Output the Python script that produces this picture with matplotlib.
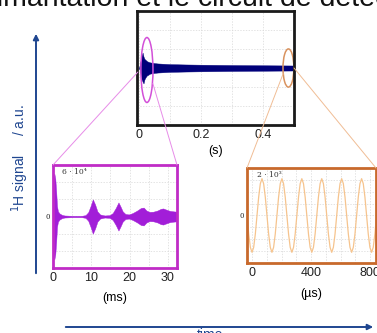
import numpy as np
import matplotlib
matplotlib.use('Agg')
import matplotlib.pyplot as plt
from matplotlib.patches import Ellipse, ConnectionPatch

plt.rcParams['font.family'] = ['Liberation Sans', 'DejaVu Sans']

# main FID envelope (s, a.u. scaled to +-1)
main_t = [0.0, 0.003, 0.006, 0.009, 0.012, 0.015, 0.018, 0.022, 0.026, 0.030,
          0.035, 0.045, 0.06, 0.1, 0.15, 0.2, 0.3, 0.4, 0.5]
main_up = [0.0, 0.05, 0.14, 0.22, 0.27, 0.20, 0.16, 0.14, 0.12, 0.11,
           0.10, 0.09, 0.08, 0.068, 0.062, 0.058, 0.052, 0.048, 0.044]
main_lo = [0.0, -0.04, -0.12, -0.20, -0.24, -0.27, -0.20, -0.16, -0.13, -0.12,
           -0.10, -0.09, -0.08, -0.068, -0.062, -0.058, -0.052, -0.048, -0.044]
main_xticks = [0, 0.1, 0.2, 0.3, 0.4, 0.5]
main_xlabels = ['0', '', '0.2', '', '0.4', '']

# zoom on first 32 ms : echo train envelope (ms, units of 6e4 / 3)
left_t = [0.0, 0.15, 0.35, 0.6, 0.85, 1.05, 1.3, 1.7, 2.3, 3.0, 5.0, 7.5, 8.5,
          9.2, 9.8, 10.4, 11.0, 11.6, 12.3, 13.5, 14.8, 15.6, 16.4, 17.1, 17.6,
          18.2, 18.9, 19.8, 20.8, 22.0, 23.0, 23.7, 24.4, 25.2, 26.2, 27.3, 28.2,
          28.8, 29.6, 30.5, 31.5, 32.4]
left_amp = [0.0, 2.3, 2.5, 2.2, 1.4, 0.6, 0.3, 0.18, 0.1, 0.06, 0.04, 0.04, 0.08,
            0.25, 0.6, 1.0, 0.7, 0.3, 0.12, 0.06, 0.08, 0.2, 0.5, 0.82, 0.6,
            0.3, 0.15, 0.12, 0.2, 0.35, 0.5, 0.52, 0.35, 0.27, 0.28, 0.35, 0.45,
            0.47, 0.4, 0.33, 0.3, 0.28]
left_xticks = [0, 10, 20, 30]

# zoom at the end of the FID (us) : samples read every 11.25 us
one_cycle = [0, -1.55, -2.68, -3.1, -2.68, -1.55, 0, 1.55, 2.68, 3.1, 2.68, 1.55]
right_val = one_cycle * 6 + [0, -1.55, -2.68, -3.1, -2.68, -1.55, 0]
right_t = np.linspace(-33.75, 843.75, len(right_val))
right_xticks = [0, 400, 800]

W, H = 377, 333
BLUE = '#1f4690'
MAGENTA = '#c02cc6'
VIOLET = '#a21ed8'
ORANGE = '#c8692c'


def px_box(l, t, r, b):
    return [l / W, 1 - b / H, (r - l) / W, (b - t) / H]


def style_axes(ax, color, lw):
    for s in ax.spines.values():
        s.set_color(color)
        s.set_linewidth(lw)
    ax.tick_params(length=0, labelsize=9, colors='#222222', pad=3)
    ax.grid(True, color='#d8d8d8', linestyle=(0, (2, 2)), linewidth=0.5)
    ax.set_axisbelow(True)


fig = plt.figure(figsize=(W / 100, H / 100), dpi=100)

# overlay for arrows and captions, in pixel coordinates
bg = fig.add_axes([0, 0, 1, 1])
bg.set_xlim(0, W)
bg.set_ylim(H, 0)
bg.axis('off')
bg.annotate('', xy=(36, 31), xytext=(36, 276),
            arrowprops=dict(arrowstyle='-|>', color=BLUE, lw=1.4, mutation_scale=8))
bg.annotate('', xy=(376, 327), xytext=(63, 327),
            arrowprops=dict(arrowstyle='-|>', color=BLUE, lw=1.4, mutation_scale=8))
bg.text(20, 158, '$^{1}$H signal     / a.u.', rotation=90, ha='center', va='center',
        color=BLUE, fontsize=10)
bg.text(210, 328, 'time', ha='center', va='top', color=BLUE, fontsize=10)
# caption from the slide above, cut by the top edge
fig.text(-19 / W, 1 - 6 / H, 'aimantation et le circuit de détection',
         ha='left', va='baseline', fontsize=20.5, color='#111111')

# main FID
ax = fig.add_axes(px_box(137, 11, 294, 125))
ax.fill_between(main_t, main_lo, main_up, color='#00007a', lw=0.3)
ax.set_xlim(-0.006, 0.5)
ax.set_ylim(-1, 1)
ax.set_xticks(main_xticks)
ax.set_xticklabels(main_xlabels)
ax.set_yticks(np.linspace(-1, 1, 7))
ax.set_yticklabels([])
style_axes(ax, '#1a1a1a', 2)
ax.set_xlabel('(s)', fontsize=9, labelpad=3)
e1 = Ellipse((0.026, -0.035), 0.039, 1.14, fill=False, ec='#d24fd8', lw=1.1, clip_on=False)
e2 = Ellipse((0.482, 0.0), 0.035, 0.67, fill=False, ec='#d9935f', lw=1.1, clip_on=False)
ax.add_patch(e1)
ax.add_patch(e2)

# left zoom panel
axl = fig.add_axes(px_box(53, 165, 177, 268))
axl.fill_between(left_t, [-a for a in left_amp], left_amp, color=VIOLET, lw=0.3)
axl.set_xlim(0, 32.4)
axl.set_ylim(-3, 3)
axl.set_xticks([0, 5, 10, 15, 20, 25, 30])
axl.set_xticklabels(['0', '', '10', '', '20', '', '30'])
axl.set_yticks(range(-3, 4))
axl.set_yticklabels(['', '', '', '0', '', '', ''], family='DejaVu Serif', fontsize=5)
style_axes(axl, MAGENTA, 2)
axl.tick_params(axis='y', labelsize=5, pad=2)
axl.set_xlabel('(ms)', fontsize=9, labelpad=6)
axl.text(0.07, 0.93, '6 · 10⁴', transform=axl.transAxes, family='DejaVu Serif',
         fontsize=5.5, color='#333333', va='center')

# right zoom panel
axr = fig.add_axes(px_box(247, 168, 376, 263))
axr.plot(right_t, right_val, color='#f6c48e', lw=0.9)
axr.set_xlim(-34, 840)
axr.set_ylim(-4, 4)
axr.set_xticks(range(0, 900, 100))
axr.set_xticklabels(['0', '', '', '', '400', '', '', '', '800'])
axr.set_yticks(range(-4, 5))
axr.set_yticklabels(['', '', '', '', '0', '', '', '', ''], family='DejaVu Serif', fontsize=5)
style_axes(axr, ORANGE, 2)
axr.tick_params(axis='y', labelsize=5, pad=2)
axr.set_xlabel('(\u00b5s)', fontsize=9, labelpad=6)
axr.text(0.08, 0.93, '2 · 10³', transform=axr.transAxes, family='DejaVu Serif',
         fontsize=5.5, color='#333333', va='center')

# connectors from ellipses to zoom panels
for xa, xb, col in [((-0.003, -0.07), (0, 1), '#e78ce8'),
                    ((0.045, -0.27), (1, 1), '#e78ce8')]:
    fig.add_artist(ConnectionPatch(xa, xb, coordsA=ax.transData, coordsB=axl.transAxes,
                                   color=col, lw=0.7))
for xa, xb, col in [((0.465, -0.1), (0, 1), '#f0bd95'),
                    ((0.5, 0.0), (1, 1), '#f0bd95')]:
    fig.add_artist(ConnectionPatch(xa, xb, coordsA=ax.transData, coordsB=axr.transAxes,
                                   color=col, lw=0.7))

fig.savefig('out.png', dpi=100)
